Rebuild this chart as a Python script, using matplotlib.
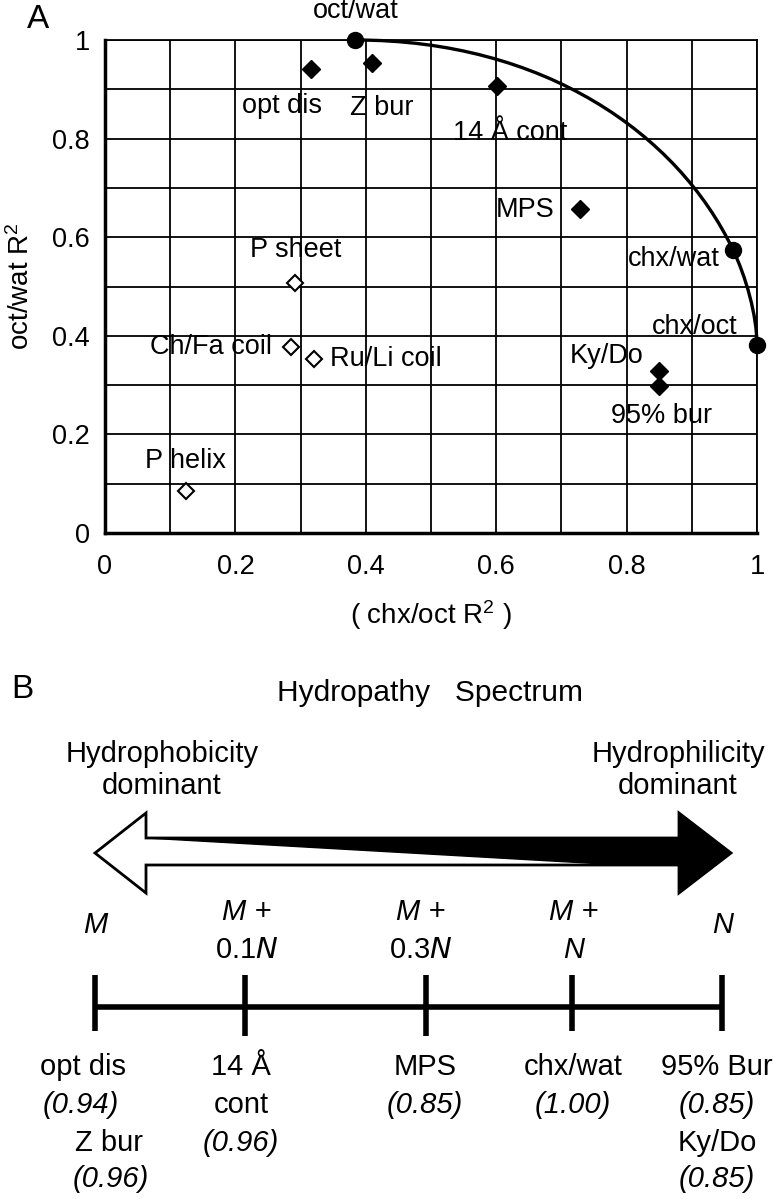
import matplotlib
matplotlib.use("Agg")
import matplotlib.pyplot as plt
from matplotlib.path import Path
from matplotlib.patches import PathPatch, Polygon

plt.rcParams['font.family'] = ['Liberation Sans', 'DejaVu Sans']
plt.rcParams['mathtext.default'] = 'regular'

# ---- panel A data ----
scale_names = ["oct/wat", "chx/wat", "chx/oct"]
scale_x = [0.384, 0.963, 1.0]
scale_y = [1.0, 0.575, 0.381]

filled_names = ["opt dis", "Z bur", "14 Å cont", "MPS", "Ky/Do", "95% bur"]
filled_x = [0.316, 0.410, 0.601, 0.728, 0.849, 0.849]
filled_y = [0.941, 0.954, 0.906, 0.657, 0.329, 0.299]

open_names = ["P sheet", "Ch/Fa coil", "Ru/Li coil", "P helix"]
open_x = [0.291, 0.286, 0.320, 0.124]
open_y = [0.508, 0.378, 0.353, 0.086]

ticks = [0, 0.2, 0.4, 0.6, 0.8, 1.0]
tick_labels = ["0", "0.2", "0.4", "0.6", "0.8", "1"]

# ---- panel B data ----
spectrum_top = ["M", "M +\n0.1N", "M +\n0.3N", "M +\nN", "N"]
spectrum_bottom = [["opt dis", "(0.94)", "Z bur", "(0.96)"],
                   ["14 Å", "cont", "(0.96)"],
                   ["MPS", "(0.85)"],
                   ["chx/wat", "(1.00)"],
                   ["95% Bur", "(0.85)", "Ky/Do", "(0.85)"]]

W, H = 773, 1199
fig = plt.figure(figsize=(W / 100, H / 100), dpi=100)

# ---------------- panel A ----------------
ax = fig.add_axes([105 / W, 1 - 533 / H, (757 - 105) / W, (533 - 40) / H])
ax.set_xlim(0, 1)
ax.set_ylim(0, 1)
ax.set_xticks(ticks)
ax.set_xticklabels(tick_labels)
ax.set_yticks(ticks)
ax.set_yticklabels(tick_labels)
ax.set_xticks([0.1, 0.3, 0.5, 0.7, 0.9], minor=True)
ax.set_yticks([0.1, 0.3, 0.5, 0.7, 0.9], minor=True)
ax.grid(True, which='both', color='black', linewidth=1.3)
ax.set_axisbelow(True)
ax.tick_params(which='both', length=0)
ax.tick_params(axis='x', labelsize=19.5, pad=15)
ax.tick_params(axis='y', labelsize=19.5, pad=11)
for side in ['left', 'bottom']:
    ax.spines[side].set_linewidth(2.5)
for side in ['top', 'right']:
    ax.spines[side].set_linewidth(1.3)

# smooth curve through the three scale points
p0 = (scale_x[0], scale_y[0])
p1 = (scale_x[1], scale_y[1])
p2 = (scale_x[2], scale_y[2])
verts = [p0,
         (p0[0] + 0.5 * (p1[0] - p0[0]), p0[1]),
         (p1[0] - 0.085, p1[1] + 0.235),
         p1,
         (p1[0] + 0.02, p1[1] - 0.055),
         (p2[0], p2[1] + 0.06),
         p2]
codes = [Path.MOVETO] + [Path.CURVE4] * 6
ax.add_patch(PathPatch(Path(verts, codes), facecolor='none', edgecolor='black',
                       linewidth=2.4, clip_on=False, zorder=3))

ax.plot(scale_x, scale_y, 'o', color='black', markersize=11.5, clip_on=False, zorder=4)
ax.plot(filled_x, filled_y, 'D', color='black', markersize=9.5, clip_on=False, zorder=4)
ax.plot(open_x, open_y, 'D', markerfacecolor='white', markeredgecolor='black',
        markeredgewidth=1.5, markersize=8, clip_on=False, zorder=4)

fs = 19.5
label_pos = {
    "oct/wat": (0.384, 1.058, 'center'),
    "chx/wat": (0.872, 0.556, 'center'),
    "chx/oct": (0.904, 0.417, 'center'),
    "opt dis": (0.272, 0.866, 'center'),
    "Z bur": (0.425, 0.862, 'center'),
    "14 Å cont": (0.621, 0.811, 'center'),
    "MPS": (0.645, 0.655, 'center'),
    "Ky/Do": (0.770, 0.360, 'center'),
    "95% bur": (0.854, 0.237, 'center'),
    "P sheet": (0.293, 0.574, 'center'),
    "Ch/Fa coil": (0.162, 0.377, 'center'),
    "Ru/Li coil": (0.345, 0.353, 'left'),
    "P helix": (0.124, 0.146, 'center'),
}
for name in scale_names + filled_names + open_names:
    lx, ly, ha = label_pos[name]
    ax.text(lx, ly, name, fontsize=fs, ha=ha, va='center', clip_on=False, zorder=5)

ax.set_ylabel("oct/wat R$^2$", fontsize=20, labelpad=12)
ax.set_xlabel("( chx/oct R$^2$ )", fontsize=20, labelpad=13)

# ---------------- panel B (pixel coordinates) ----------------
axb = fig.add_axes([0, 0, 1, 1], zorder=-1)
axb.set_xlim(0, W)
axb.set_ylim(H, 0)
axb.axis('off')

fb = 21
axb.text(38, 20, "A", fontsize=24, ha='center', va='center')
axb.text(22, 690, "B", fontsize=24, ha='center', va='center')
axb.text(430, 693, "Hydropathy   Spectrum", fontsize=21.5, ha='center', va='center')
axb.text(162, 770, "Hydrophobicity\ndominant", fontsize=fb, ha='center', va='center',
         linespacing=1.2)
axb.text(678, 770, "Hydrophilicity\ndominant", fontsize=fb, ha='center', va='center',
         linespacing=1.2)

# double arrow: white outline, black wedge growing to the right
outline = [(95, 853), (146, 813), (146, 838), (679, 838), (679, 813), (731, 853),
           (679, 893), (679, 865), (146, 865), (146, 893)]
axb.add_patch(Polygon(outline, closed=True, facecolor='white', edgecolor='black',
                      linewidth=2))
wedge = [(146, 838), (679, 838), (679, 813), (731, 853), (679, 893), (679, 865), (622, 865)]
axb.add_patch(Polygon(wedge, closed=True, facecolor='black', edgecolor='black',
                      linewidth=1))

# scale
tick_x = [95, 245, 426, 572, 722]
axb.plot([tick_x[0], tick_x[-1]], [1007, 1007], color='black', linewidth=4,
         solid_capstyle='butt')
for i, tx in enumerate(tick_x):
    bottom = 1036 if i in (1, 2) else 1031
    axb.plot([tx, tx], [975, bottom], color='black', linewidth=4, solid_capstyle='butt')

top_x = [95, 247, 421, 574, 723]
for tx, lab in zip(top_x, spectrum_top):
    lines = lab.split("\n")
    if len(lines) == 1:
        axb.text(tx, 925, lines[0], fontsize=fb, style='italic', ha='center', va='center')
    else:
        axb.text(tx, 912, lines[0], fontsize=fb, style='italic', ha='center', va='center')
        second = lines[1]
        if second == "N":
            axb.text(tx, 950, "N", fontsize=fb, style='italic', ha='center', va='center')
        else:
            axb.text(tx, 950, second[:-1] + "$\\mathit{N}$", fontsize=fb,
                     ha='center', va='center')

bottom_x = [[83, 81, 109, 111], [241, 241, 241], [425, 425], [573, 573], [717, 717, 717, 717]]
row_y = [1067, 1105, 1143, 1179]
for xs, labs in zip(bottom_x, spectrum_bottom):
    for j, (bx, lab) in enumerate(zip(xs, labs)):
        st = 'italic' if lab.startswith("(") else 'normal'
        axb.text(bx, row_y[j], lab, fontsize=fb, style=st, ha='center', va='center')

fig.savefig("out.png", dpi=100)
